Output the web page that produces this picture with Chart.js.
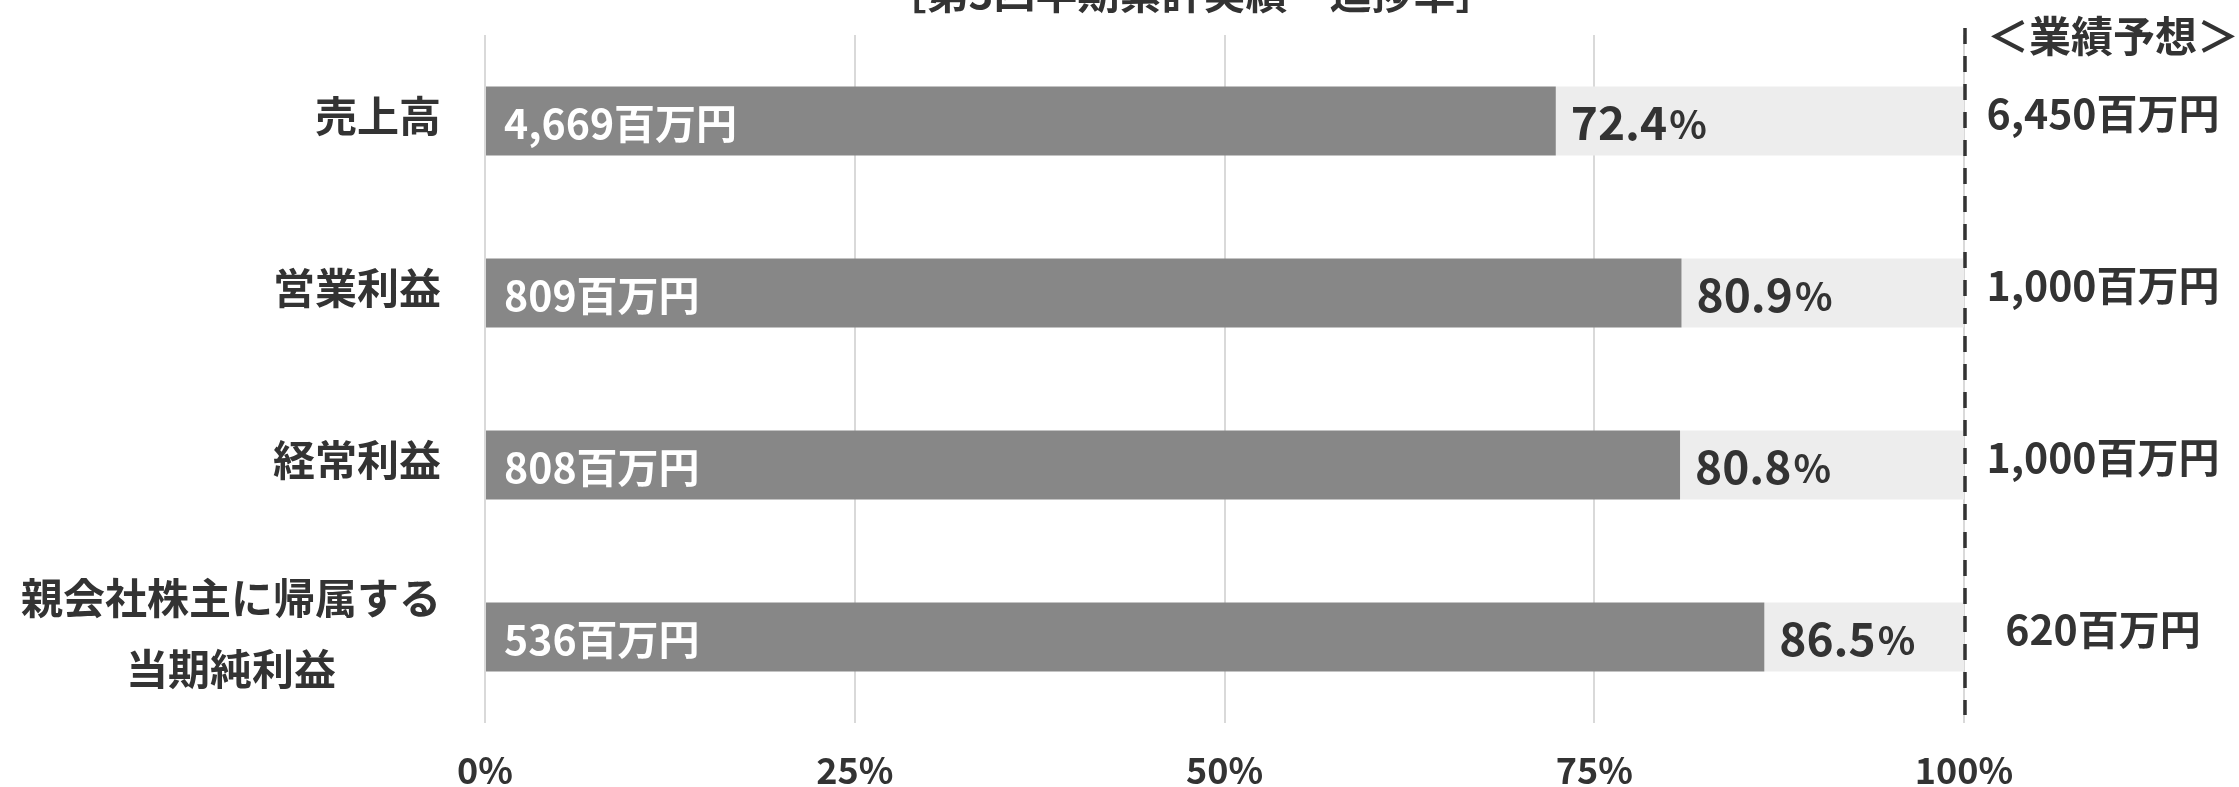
<!DOCTYPE html>
<html>
<head>
<meta charset="utf-8">
<script src="https://cdn.jsdelivr.net/npm/chart.js@4.4.0/dist/chart.umd.min.js"></script>
<style>
  html, body { margin: 0; padding: 0; background: #ffffff; }
  #wrap { width: 2239px; height: 787px; position: relative; }
</style>
</head>
<body>
<div id="wrap"><canvas id="myChart"></canvas></div>
<script>
// data
var categories = ['売上高', '営業利益', '経常利益', ['親会社株主に帰属する', '当期純利益']];
var actuals = ['4,669', '809', '808', '536'];        // 百万円
var progress = [72.4, 80.9, 80.8, 86.5];             // %
var forecasts = ['6,450', '1,000', '1,000', '620'];  // 百万円
var tickValues = [0, 25, 50, 75, 100];

var remainder = progress.map(function(p) { return +(100 - p).toFixed(1); });

var FONT = "'Noto Sans CJK JP', 'Noto Sans', sans-serif";
var TEXT = '#333333';

var labelPlugin = {
    id: 'labelPlugin',
    afterDatasetsDraw: function(chart) {
        var ctx = chart.ctx;
        var xs = chart.scales.x;
        var meta = chart.getDatasetMeta(0);
        var left = chart.chartArea.left;
        ctx.save();

        // title (mostly cut off at the top)
        ctx.fillStyle = TEXT;
        ctx.font = 'bold 42px ' + FONT;
        ctx.textAlign = 'center';
        ctx.textBaseline = 'ideographic';
        ctx.fillText('［第3四半期累計実績・進捗率］', 1191, 14);

        // dashed 100% line
        var x100 = xs.getPixelForValue(100);
        ctx.strokeStyle = '#333333';
        ctx.lineWidth = 3.5;
        ctx.setLineDash([16, 12]);
        ctx.beginPath();
        ctx.moveTo(x100 + 1, 28);
        ctx.lineTo(x100 + 1, chart.chartArea.bottom - 8);
        ctx.stroke();
        ctx.setLineDash([]);

        // forecast header
        ctx.font = 'bold 42px ' + FONT;
        ctx.textBaseline = 'middle';
        ctx.textAlign = 'center';
        ctx.fillText('＜業績予想＞', 2113, 36);

        meta.data.forEach(function(bar, i) {
            var y = bar.y;

            // category label on the left
            ctx.fillStyle = TEXT;
            ctx.font = 'bold 42px ' + FONT;
            var cat = categories[i];
            if (Array.isArray(cat)) {
                var w = Math.max.apply(null, cat.map(function(t) { return ctx.measureText(t).width; }));
                ctx.textAlign = 'center';
                ctx.fillText(cat[0], left - 44 - w / 2, y - 39);
                ctx.fillText(cat[1], left - 44 - w / 2, y + 32);
            } else {
                ctx.textAlign = 'right';
                ctx.fillText(cat, left - 44, y - 5);
            }

            // actual value inside the dark bar
            ctx.fillStyle = '#ffffff';
            ctx.textAlign = 'left';
            ctx.font = 'bold 41px ' + FONT;
            ctx.fillText(actuals[i] + '百万円', bar.base + 18, y + 2);

            // progress %
            ctx.fillStyle = TEXT;
            ctx.font = 'bold 46px ' + FONT;
            var num = progress[i].toFixed(1);
            var nx = bar.x + 15;
            ctx.fillText(num, nx, y + 2);
            var nw = ctx.measureText(num).width;
            ctx.font = 'bold 39px ' + FONT;
            ctx.fillText('%', nx + nw + 2, y + 3);

            // forecast on the right
            ctx.font = 'bold 41px ' + FONT;
            ctx.textAlign = 'center';
            ctx.fillText(forecasts[i] + '百万円', 2103, y - 8);
        });
        ctx.restore();
    }
};

var ctx = document.getElementById('myChart').getContext('2d');
var myChart = new Chart(ctx, {
    type: 'bar',
    data: {
        labels: categories,
        datasets: [
            {
                label: '実績',
                data: progress,
                backgroundColor: '#878787',
                borderWidth: 0,
                barPercentage: 0.4,
                categoryPercentage: 1.0
            },
            {
                label: '残り',
                data: remainder,
                backgroundColor: '#ededed',
                borderWidth: 0,
                barPercentage: 0.4,
                categoryPercentage: 1.0
            }
        ]
    },
    options: {
        indexAxis: 'y',
        responsive: true,
        maintainAspectRatio: false,
        animation: false,
        layout: {
            padding: { left: 477, right: 275, top: 35, bottom: 0 }
        },
        scales: {
            x: {
                stacked: true,
                min: 0,
                max: 100,
                afterBuildTicks: function(scale) {
                    scale.ticks = tickValues.map(function(v) { return { value: v }; });
                },
                afterFit: function(scale) { scale.height = 64; },
                grid: {
                    color: '#d9d9d9',
                    lineWidth: 2,
                    drawTicks: false
                },
                border: { display: false },
                ticks: {
                    color: TEXT,
                    padding: 26,
                    font: { family: FONT, size: 36, weight: 'bold' },
                    callback: function(v) { return v + '%'; }
                }
            },
            y: {
                stacked: true,
                grid: { display: false },
                border: { display: false },
                ticks: { display: false }
            }
        },
        plugins: {
            legend: { display: false },
            tooltip: { enabled: false },
            title: { display: false }
        }
    },
    plugins: [labelPlugin]
});
</script>
</body>
</html>
